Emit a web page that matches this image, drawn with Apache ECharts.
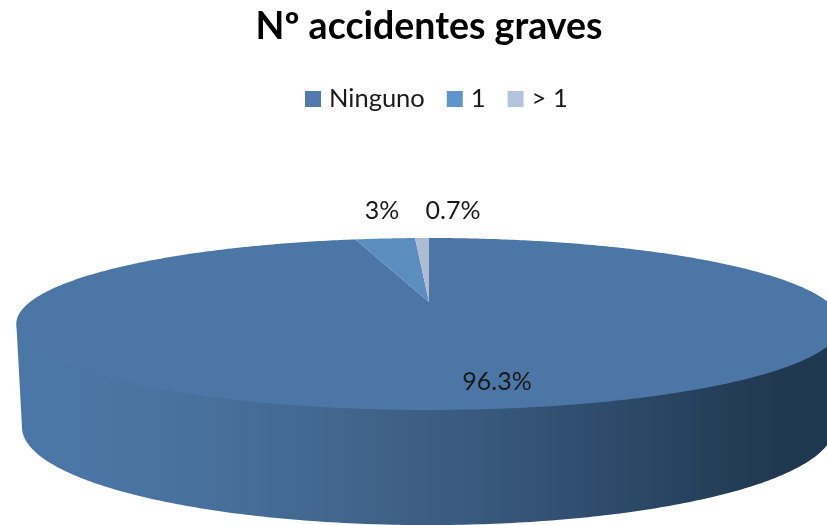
<!DOCTYPE html>
<html>
<head>
<meta charset="utf-8">
<style>html,body{margin:0;padding:0;background:#fff}#c{width:827px;height:525px}</style>
<script src="https://cdn.jsdelivr.net/npm/echarts@6/dist/echarts.min.js"></script>
</head>
<body>
<div id="c"></div>
<script>
const categories = ['Ninguno', '1', '> 1'];
const values = [96.3, 3, 0.7];
const labels = ['96.3%', '3%', '0.7%'];
const colors = ['#4B76A5', '#5B8DBF', '#AEBBD3'];
const legendColors = ['#4F7CAC', '#5F95CC', '#B4C3DE'];

const FONT = 'Lato, "Open Sans", sans-serif';
const total = values.reduce((a, b) => a + b, 0);
const K = 0.2558;                                   // perspective of the tilted disc
const TOP = { cx: 429, cy: 302, a: 80.37, b: 399 };
const BOTTOM = { cx: 428, cy: 402, a: 91.6, b: 392.5 };
const labelAnchors = [[497, 382], [382, 211], [453, 211]];

function project(d, deg, r) {
  const t = deg * Math.PI / 180;
  const u = r * Math.sin(t), v = r * Math.cos(t), w = 1 + K * v;
  return [d.cx + d.b * u / w, d.cy - d.a * v / w];
}
function arc(d, from, to) {
  const pts = [], n = Math.max(2, Math.ceil(Math.abs(to - from) * 1.5));
  for (let i = 0; i <= n; i++) pts.push(project(d, from + (to - from) * i / n, 1));
  return pts;
}
function renderSlice(index) {
  return function (params, api) {
    const before = values.slice(0, index).reduce((a, b) => a + b, 0);
    const start = before / total * 360;
    const end = start + api.value(0) / total * 360;
    const children = [];
    if (index === 0) {
      const upper = arc(TOP, 104.8, 255.2).map(p => [p[0], p[1] - 1.5]);
      children.push({
        type: 'polygon',
        shape: { points: upper.concat(arc(BOTTOM, 255.2, 104.8)) },
        style: {
          fill: new echarts.graphic.LinearGradient(0, 0, 1, 0, [
            { offset: 0, color: '#4B77A7' },
            { offset: 0.12, color: '#4A75A3' },
            { offset: 0.25, color: '#476F9A' },
            { offset: 0.5, color: '#3D5E84' },
            { offset: 0.75, color: '#2B4867' },
            { offset: 0.93, color: '#20384F' },
            { offset: 1, color: '#20384F' }
          ])
        }
      });
    }
    children.push({
      type: 'polygon',
      shape: { points: [[TOP.cx, TOP.cy]].concat(arc(TOP, start, end)) },
      style: { fill: colors[index] }
    });
    children.push({
      type: 'text',
      z2: 10,
      style: {
        x: labelAnchors[index][0], y: labelAnchors[index][1],
        text: labels[index], fill: '#1a1a1a', font: '25px ' + FONT,
        textAlign: 'center', textVerticalAlign: 'middle'
      }
    });
    return { type: 'group', children };
  };
}

const chart = echarts.init(document.getElementById('c'), null, { renderer: 'canvas' });
chart.setOption({
  animation: false,
  backgroundColor: '#fff',
  title: {
    text: 'Nº accidentes graves', left: 424, top: 3, textAlign: 'center',
    textStyle: { fontFamily: FONT, fontWeight: 'bold', fontSize: 37.5, color: '#000' }
  },
  legend: {
    left: 300, top: 81, itemWidth: 16, itemHeight: 16, itemGap: 22,
    icon: 'rect', data: categories,
    textStyle: { fontFamily: FONT, fontSize: 25.5, color: '#1a1a1a', padding: [6, 0, 0, 3] }
  },
  series: categories.map((name, i) => ({
    type: 'custom', name,
    coordinateSystem: 'none',
    silent: true,
    itemStyle: { color: legendColors[i] },
    renderItem: renderSlice(i),
    data: [[values[i]]]
  }))
});
</script>
</body>
</html>
